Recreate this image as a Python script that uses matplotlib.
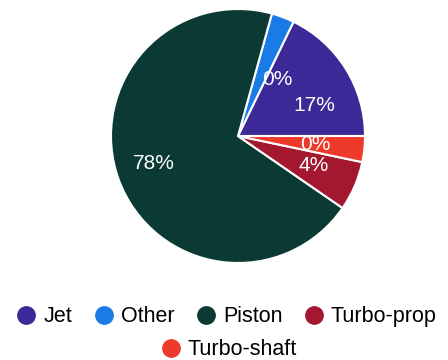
import numpy as np
import matplotlib.pyplot as plt
from matplotlib.lines import Line2D

# engine type share
engines = ['Jet', 'Other', 'Piston', 'Turbo-prop', 'Turbo-shaft']
shares = [17.8, 2.9, 69.7, 6.3, 3.3]
shown_pct = ['17%', '0%', '78%', '4%', '0%']
colors = ['#3c2896', '#1a7ae6', '#0b3a34', '#a3182f', '#ee3a2a']

# where each percent label sits (degrees, fraction of radius)
label_angle = [22, 55, 198, -21, -6]
label_dist = [0.65, 0.54, 0.70, 0.64, 0.61]

plt.rcParams['font.family'] = ['Liberation Sans', 'DejaVu Sans']

fig = plt.figure(figsize=(4.48, 3.6), dpi=100)
ax = fig.add_axes([111 / 448, 97 / 360, 254 / 448, 254 / 360])

wedges, texts = ax.pie(shares, colors=colors, startangle=0, counterclock=True,
                       wedgeprops=dict(edgecolor='white', linewidth=1.5))
ax.set_xlim(-1, 1)
ax.set_ylim(-1, 1)
ax.set_aspect('equal')
ax.axis('off')

for txt, a, d in zip(shown_pct, label_angle, label_dist):
    a = np.deg2rad(a)
    ax.text(d * np.cos(a), d * np.sin(a), txt, color='white',
            fontsize=15, ha='center', va='center')

handles = [Line2D([], [], marker='o', linestyle='', markersize=12.5,
                  markerfacecolor=c, markeredgecolor=c) for c in colors]

leg_kw = dict(frameon=False, fontsize=15.5, handletextpad=0.3,
              columnspacing=0.95, handlelength=1.0, borderpad=0, borderaxespad=0)
fig.legend(handles[:4], engines[:4], loc='center', ncol=4,
           bbox_to_anchor=(0.505, 0.12), **leg_kw)
fig.legend(handles[4:], engines[4:], loc='center', ncol=1,
           bbox_to_anchor=(0.51, 0.028), **leg_kw)

fig.savefig('out.png', dpi=100)
